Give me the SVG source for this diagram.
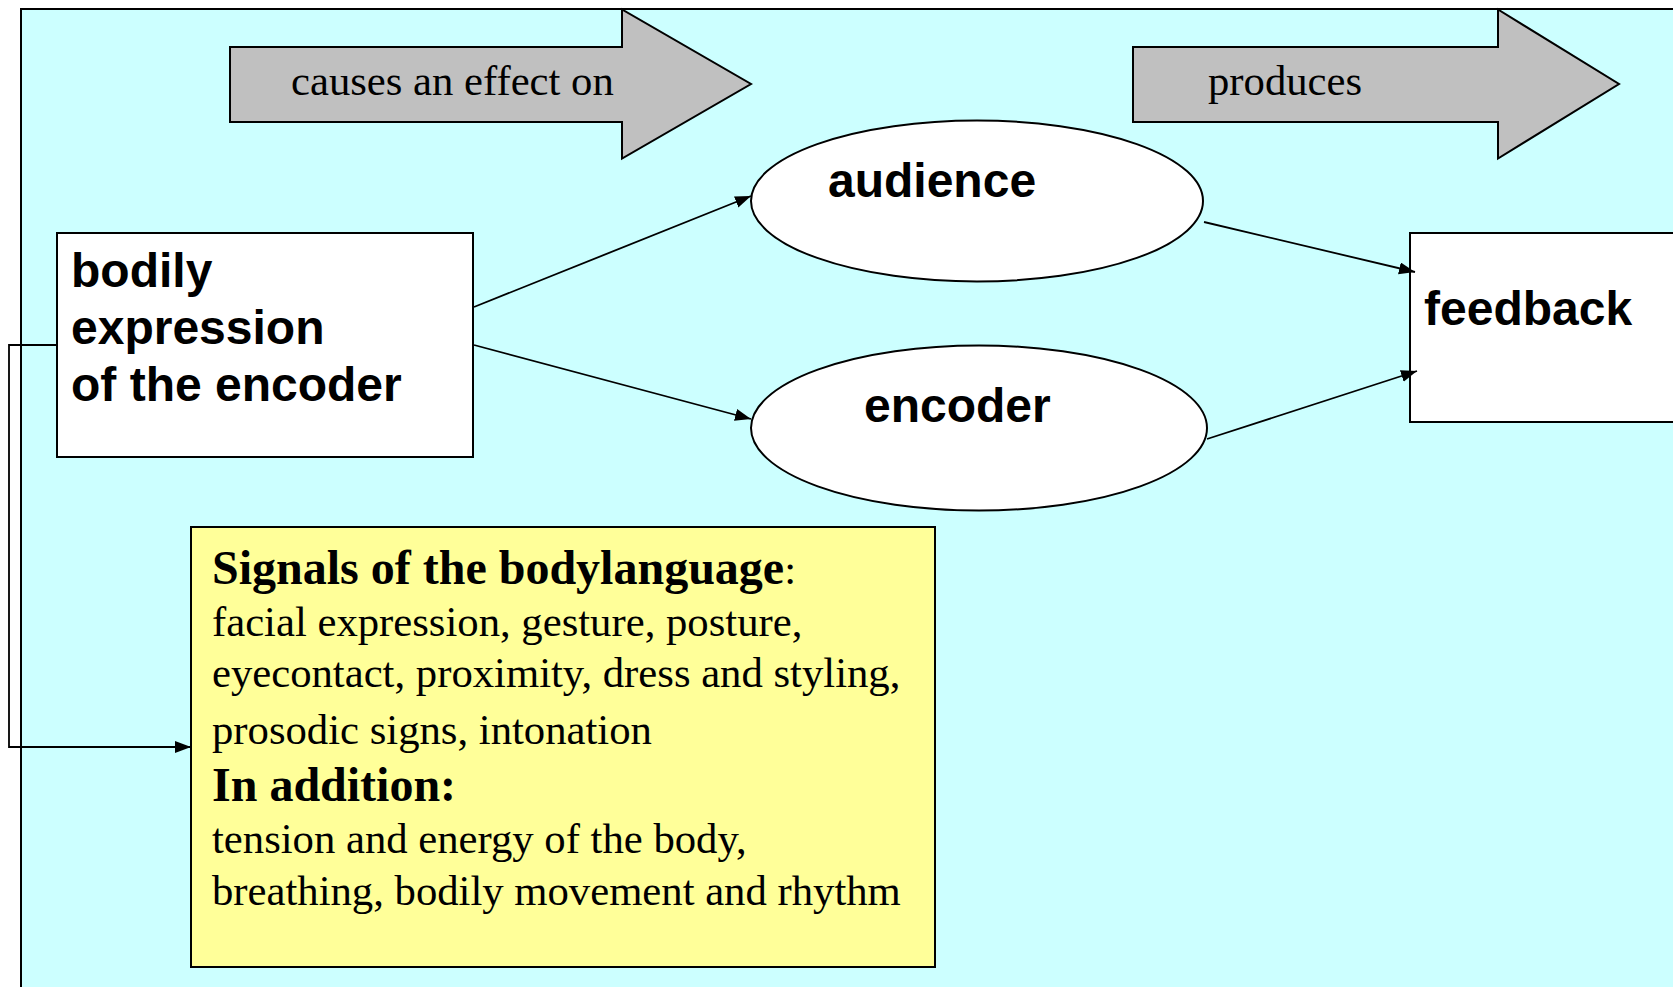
<svg xmlns="http://www.w3.org/2000/svg" width="1673" height="987" viewBox="0 0 1673 987">
  <style>
    .box { stroke: #000; stroke-width: 2; }
    .node { fill: #fff; stroke: #000; stroke-width: 2; }
    .big-arrow { fill: #c0c0c0; stroke: #000; stroke-width: 2; }
    .label { font-family: "Liberation Sans", Arial, sans-serif; font-weight: bold; font-size: 48px; fill: #000; }
    .serif { font-family: "Liberation Serif", "Times New Roman", serif; font-size: 42.7px; fill: #000; }
    .serif-b { font-family: "Liberation Serif", "Times New Roman", serif; font-size: 48px; font-weight: bold; fill: #000; }
    .conn { fill: none; stroke: #000; stroke-width: 1.8; }
  </style>
  <defs>
    <marker id="arrow" markerUnits="userSpaceOnUse" markerWidth="17" markerHeight="13" refX="16" refY="6" orient="auto">
      <path d="M0,0 L16,6 L0,12 z" fill="#000"/>
    </marker>
  </defs>

  <rect width="1673" height="987" fill="#fff"/>
  <!-- backdrop panel -->
  <rect id="panel" class="box" x="21" y="9" width="1670" height="990" fill="#ccffff"/>

  <!-- block arrow: causes an effect on -->
  <g id="arrow-causes">
    <path class="big-arrow" d="M230,47 L622,47 L622,9.5 L751,84 L622,158.5 L622,122 L230,122 z"/>
    <text class="serif" x="291" y="95">causes an effect on</text>
  </g>

  <!-- block arrow: produces -->
  <g id="arrow-produces">
    <path class="big-arrow" d="M1133,47 L1498,47 L1498,9.5 L1619,84 L1498,158.5 L1498,122 L1133,122 z"/>
    <text class="serif" x="1208" y="95">produces</text>
  </g>

  <g id="node-bodily">
    <rect class="node" x="57" y="233" width="416" height="224"/>
    <text class="label" x="71" y="287">bodily</text>
    <text class="label" x="71" y="344">expression</text>
    <text class="label" x="71" y="401">of the encoder</text>
  </g>

  <g id="node-audience">
    <ellipse class="node" cx="977" cy="201" rx="226" ry="80.5"/>
    <text class="label" x="828" y="197">audience</text>
  </g>

  <g id="node-encoder">
    <ellipse class="node" cx="979" cy="428" rx="228" ry="82.5"/>
    <text class="label" x="864" y="422">encoder</text>
  </g>

  <g id="node-feedback">
    <rect class="node" x="1410" y="233" width="300" height="189"/>
    <text class="label" x="1424" y="325">feedback</text>
  </g>

  <g id="node-signals">
    <rect class="box" x="191" y="527" width="744" height="440" fill="#ffff99"/>
    <text x="212" y="584"><tspan class="serif-b">Signals of the bodylanguage</tspan><tspan class="serif">:</tspan></text>
    <text class="serif" x="212" y="636">facial expression, gesture, posture,</text>
    <text class="serif" x="212" y="687">eyecontact, proximity, dress and styling,</text>
    <text class="serif" x="212" y="744">prosodic signs, intonation</text>
    <text class="serif-b" x="212" y="801">In addition:</text>
    <text class="serif" x="212" y="853">tension and energy of the body,</text>
    <text class="serif" x="212" y="905">breathing, bodily movement and rhythm</text>
  </g>

  <g id="connectors">
    <line class="conn" x1="474" y1="307" x2="751" y2="196" marker-end="url(#arrow)"/>
    <line class="conn" x1="474" y1="345" x2="751" y2="419" marker-end="url(#arrow)"/>
    <line class="conn" x1="1204" y1="222" x2="1415" y2="272" marker-end="url(#arrow)"/>
    <line class="conn" x1="1207" y1="439" x2="1417" y2="371" marker-end="url(#arrow)"/>
    <polyline class="conn" points="57,345 9,345 9,747 191,747" marker-end="url(#arrow)"/>
  </g>
</svg>
